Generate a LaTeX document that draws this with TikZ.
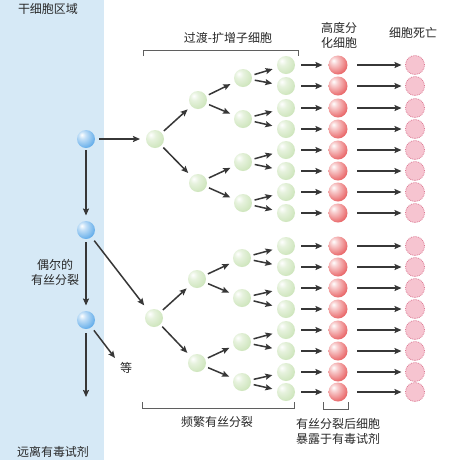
\documentclass[tikz,border=0pt]{standalone}
\usepackage{fontspec}
\setmainfont{Noto Sans CJK SC}
\usetikzlibrary{arrows.meta}
\definecolor{bluebg}{RGB}{214,233,246}
\definecolor{arrc}{RGB}{55,55,55}
\definecolor{txtc}{RGB}{40,40,40}
\definecolor{gbase}{RGB}{200,226,180}
\definecolor{gedge}{RGB}{158,196,132}
\definecolor{bbase}{RGB}{86,166,232}
\definecolor{bedge}{RGB}{42,118,200}
\definecolor{rbase}{RGB}{232,96,98}
\definecolor{redge}{RGB}{200,50,56}
\definecolor{pinkf}{RGB}{246,196,208}
\definecolor{pinkd}{RGB}{220,120,146}
\definecolor{brc}{RGB}{95,95,95}
\pgfdeclareradialshading{gshade}{\pgfpoint{-12bp}{12bp}}{color(0bp)=(white); color(12bp)=(gbase!45!white); color(38bp)=(gbase); color(62bp)=(gedge); color(80bp)=(gedge)}
\pgfdeclareradialshading{bshade}{\pgfpoint{-12bp}{12bp}}{color(0bp)=(white); color(10bp)=(bbase!35!white); color(36bp)=(bbase); color(62bp)=(bedge); color(80bp)=(bedge)}
\pgfdeclareradialshading{rshade}{\pgfpoint{-12bp}{12bp}}{color(0bp)=(white); color(9bp)=(rbase!30!white); color(34bp)=(rbase); color(62bp)=(redge); color(80bp)=(redge)}
\tikzset{
  cellg/.style={circle, minimum size=18pt, inner sep=0pt, outer sep=0pt, shading=gshade},
  cellb/.style={circle, minimum size=18pt, inner sep=0pt, outer sep=0pt, shading=bshade},
  cellr/.style={circle, minimum size=19pt, inner sep=0pt, outer sep=0pt, shading=rshade},
  cellp/.style={circle, minimum size=19pt, inner sep=0pt, outer sep=0pt, fill=pinkf, draw=pinkd, densely dotted, line width=0.8pt},
  arr/.style={draw=arrc, line width=1.5pt, -{Stealth[length=7pt,width=6pt,inset=1.2pt]}, shorten <=3pt, shorten >=5pt},
  lbl/.style={text=txtc, font=\fontsize{12}{15}\selectfont, inner sep=0pt, align=center},
  brk/.style={draw=brc, line width=0.7pt}
}
\begin{document}
\begin{tikzpicture}[x=1pt,y=-1pt]
\useasboundingbox (0,0) rectangle (458,467);
\fill[white] (0,0) rectangle (458,467);
\fill[bluebg] (0,0) rectangle (104,460);
% stem cells
\node[cellb] (b1) at (86,139) {};
\node[cellb] (b2) at (86,230) {};
\node[cellb] (b3) at (86,320) {};
\coordinate (bend) at (86,397);
% upper tree
\node[cellg] (u1) at (155,139) {};
\node[cellg] (u2a) at (198,100) {};
\node[cellg] (u2b) at (198,183) {};
\node[cellg] (u3a) at (243,78) {};
\node[cellg] (u3b) at (243,119) {};
\node[cellg] (u3c) at (243,162) {};
\node[cellg] (u3d) at (243,203) {};
% lower tree
\node[cellg] (l1) at (154,318) {};
\node[cellg] (l2a) at (197,279) {};
\node[cellg] (l2b) at (197,363) {};
\node[cellg] (l3a) at (242,258) {};
\node[cellg] (l3b) at (242,298) {};
\node[cellg] (l3c) at (242,342) {};
\node[cellg] (l3d) at (242,382) {};
% leaves, differentiated and dead cells
\foreach \i/\y in {1/65,2/86,3/108,4/129,5/150,6/171,7/192,8/213,9/246,10/267,11/288,12/309,13/330,14/351,15/372,16/392}{
  \node[cellg] (g\i) at (286,\y) {};
  \node[cellr] (r\i) at (338,\y) {};
  \node[cellp] (p\i) at (415,\y) {};
  \draw[arr, shorten <=6pt, shorten >=6pt] (g\i) -- (r\i);
  \draw[arr, shorten <=9.5pt, shorten >=4pt] (r\i) -- (p\i);
}
% arrows stem
\draw[arr, shorten <=2pt, shorten >=5.5pt] (b1) -- (b2);
\draw[arr, shorten <=3pt, shorten >=5.5pt] (b2) -- (b3);
\draw[arr, shorten <=4pt, shorten >=0pt] (b3) -- (bend);
\draw[arr, shorten <=4pt, shorten >=6pt] (b1) -- (u1);
\draw[arr, shorten <=4.5pt, shorten >=7pt] (b2) -- (l1);
\node[lbl] (deng) at (126,368) {等};
\coordinate (dengarr) at (115,358);
\draw[arr, shorten <=4pt, shorten >=0pt] (b3) -- (dengarr);
% tree arrows
\foreach \a/\b in {u1/u2a,u1/u2b,u2a/u3a,u2a/u3b,u2b/u3c,u2b/u3d,
                   l1/l2a,l1/l2b,l2a/l3a,l2a/l3b,l2b/l3c,l2b/l3d,
                   u3a/g1,u3a/g2,u3b/g3,u3b/g4,u3c/g5,u3c/g6,u3d/g7,u3d/g8,
                   l3a/g9,l3a/g10,l3b/g11,l3b/g12,l3c/g13,l3c/g14,l3d/g15,l3d/g16}{
  \draw[arr] (\a) -- (\b);
}
% brackets
\draw[brk] (143,56) -- (143,50) -- (298,50) -- (298,56);
\draw[brk] (142,402) -- (142,408) -- (294,408) -- (294,402);
\draw[brk] (323,402) -- (323,409) -- (348,409) -- (348,402);
% labels
\node[lbl] (t1) at (48,9) {干细胞区域};
\node[lbl] (t2) at (228,38) {过渡-扩增子细胞};
\node[lbl] (t3) at (339,35) {高度分\\化细胞};
\node[lbl] (t4) at (413,33) {细胞死亡};
\node[lbl] (t5) at (55,272) {偶尔的\\有丝分裂};
\node[lbl] (t6) at (53,452) {远离有毒试剂};
\node[lbl] (t7) at (217,422) {频繁有丝分裂};
\node[lbl] (t8) at (338,431) {有丝分裂后细胞\\暴露于有毒试剂};
\end{tikzpicture}
\end{document}
